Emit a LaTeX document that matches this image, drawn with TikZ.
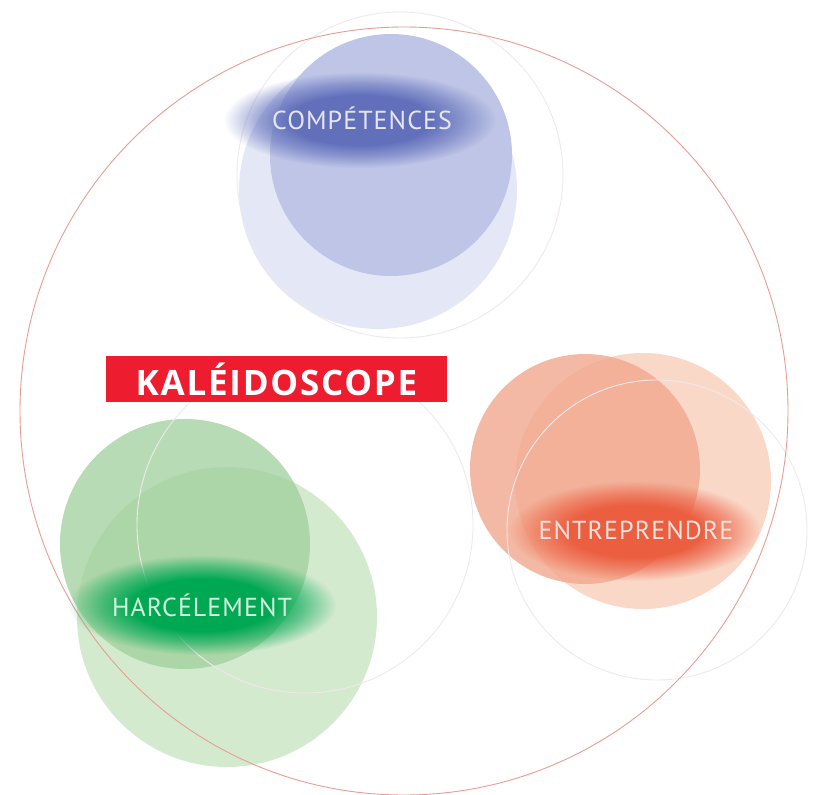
\documentclass[tikz,border=0pt]{standalone}
\usepackage{fontspec}
\newfontfamily\labelfont{PT Sans}[LetterSpace=4]
\newfontfamily\titlefont{Open Sans}[LetterSpace=5]
\usetikzlibrary{fadings}

\definecolor{ringred}{RGB}{232,158,148}
\definecolor{faintring}{RGB}{240,232,234}
\definecolor{blueA}{RGB}{190,197,230}
\definecolor{blueB}{RGB}{228,231,246}
\definecolor{blueglow}{RGB}{98,112,188}
\definecolor{bluetext}{RGB}{228,230,240}
\definecolor{orangeA}{RGB}{242,168,142}
\definecolor{orangeB}{RGB}{250,216,200}
\definecolor{orangeglow}{RGB}{236,94,64}
\definecolor{orangetext}{RGB}{246,226,220}
\definecolor{greenA}{RGB}{160,208,155}
\definecolor{greenB}{RGB}{212,234,207}
\definecolor{greenglow}{RGB}{0,168,84}
\definecolor{greentext}{RGB}{214,240,220}
\definecolor{kalred}{RGB}{237,28,46}

% soft spot behind each label
\pgfdeclareradialshading{glowshade}{\pgfpointorigin}{%
  color(0bp)=(pgftransparent!0); color(13bp)=(pgftransparent!0);
  color(19bp)=(pgftransparent!45);
  color(25bp)=(pgftransparent!100); color(50bp)=(pgftransparent!100)}
\pgfdeclarefading{glow}{\pgfuseshading{glowshade}}

\begin{document}
\begin{tikzpicture}[x=1pt,y=-1pt,
  ring/.style={draw=faintring,line width=0.9pt},
  glowspot/.style={fill=#1,path fading=glow},
  tag/.style={font=\labelfont\fontsize{26}{26}\selectfont,text=#1}]
  \useasboundingbox (0,0) rectangle (815,795);
  \fill[white] (0,0) rectangle (815,795);
  % discs
  \fill[blueB] (378,190) circle[radius=139pt];
  \fill[blueA] (391,155) circle[radius=121pt];
  \fill[orangeB] (643,481) circle[radius=128pt];
  \fill[orangeA,opacity=0.8] (585,469) circle[radius=115pt];
  \fill[greenB] (227,617) circle[radius=150pt];
  \fill[greenA,opacity=0.75] (185,544) circle[radius=125pt];
  % thin rings
  \draw[ring] (400,175) circle[radius=163pt];
  \draw[ring] (657,530) circle[radius=150pt];
  \draw[ring] (305,525) circle[radius=168pt];
  \draw[ringred,line width=0.9pt] (404,411) circle[radius=384pt];
  % glows and labels
  \fill[glowspot=blueglow] (360,120) ellipse[x radius=136pt,y radius=48pt];
  \fill[glowspot=orangeglow] (635,531) ellipse[x radius=126pt,y radius=50pt];
  \fill[glowspot=greenglow] (202,605) ellipse[x radius=134pt,y radius=50pt];
  \node[tag=bluetext] (comp) at (362,118) {COMPÉTENCES};
  \node[tag=orangetext] (entr) at (636,530) {ENTREPRENDRE};
  \node[tag=greentext] (harc) at (202,605) {HARCÉLEMENT};
  \node[fill=kalred,text=white,minimum width=341pt,minimum height=46pt,inner sep=0pt,
    font=\titlefont\bfseries\fontsize{35}{35}\selectfont] (kal) at (276.5,379) {KALÉIDOSCOPE};
\end{tikzpicture}
\end{document}
